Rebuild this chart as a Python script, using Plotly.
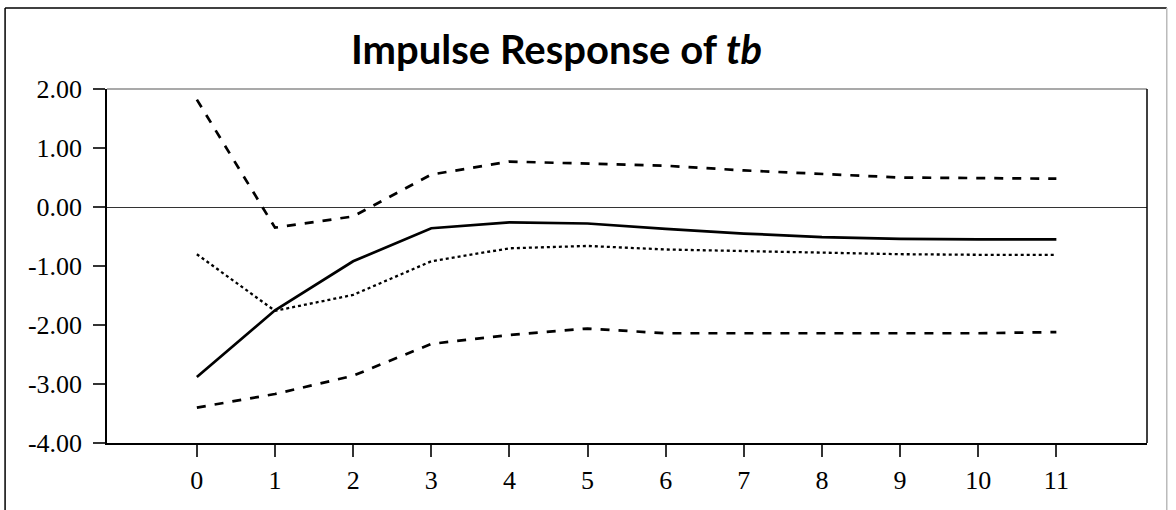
import plotly.graph_objects as go

periods = list(range(12))
response = [-2.88, -1.75, -0.92, -0.36, -0.26, -0.28, -0.37, -0.45, -0.51, -0.54, -0.55, -0.55]
upper_band = [1.82, -0.35, -0.16, 0.55, 0.77, 0.74, 0.70, 0.62, 0.56, 0.50, 0.49, 0.48]
lower_band = [-3.40, -3.17, -2.86, -2.32, -2.17, -2.06, -2.14, -2.14, -2.14, -2.14, -2.14, -2.12]
dotted_series = [-0.80, -1.76, -1.49, -0.92, -0.70, -0.66, -0.72, -0.75, -0.78, -0.80, -0.81, -0.81]
y_ticks = [2, 1, 0, -1, -2, -3, -4]
y_tick_labels = ["2.00", "1.00", "0.00", "-1.00", "-2.00", "-3.00", "-4.00"]
title_text = "<b>Impulse Response of <i>tb</i></b>"

fig = go.Figure()
fig.add_trace(go.Scatter(x=periods, y=upper_band, mode="lines",
                         line=dict(color="black", width=2.7, dash="dash"), showlegend=False))
fig.add_trace(go.Scatter(x=periods, y=lower_band, mode="lines",
                         line=dict(color="black", width=2.7, dash="dash"), showlegend=False))
fig.add_trace(go.Scatter(x=periods, y=dotted_series, mode="lines",
                         line=dict(color="black", width=2.3, dash="dot"), showlegend=False))
fig.add_trace(go.Scatter(x=periods, y=response, mode="lines",
                         line=dict(color="black", width=2.7), showlegend=False))

tick_font = dict(family="Liberation Serif", size=26, color="black")
fig.update_layout(
    width=1176, height=510,
    margin=dict(l=107, r=29, t=89, b=67),
    paper_bgcolor="white", plot_bgcolor="white",
    xaxis=dict(range=[-1.15, 12.16], tickmode="array", tickvals=periods,
               ticktext=[str(p) for p in periods], showgrid=False, zeroline=False,
               showline=True, linecolor="black", linewidth=1.5,
               ticks="outside", ticklen=12, tickcolor="#333", tickwidth=1.5,
               tickfont=tick_font, ticklabelstandoff=1),
    yaxis=dict(range=[-4, 2], tickmode="array", tickvals=y_ticks, ticktext=y_tick_labels,
               showgrid=False, zeroline=True, zerolinecolor="#333", zerolinewidth=1,
               showline=True, linecolor="black", linewidth=1.5,
               ticks="outside", ticklen=12, tickcolor="#333", tickwidth=1.5,
               tickfont=tick_font, ticklabelstandoff=6),
    annotations=[dict(text=title_text, xref="paper", yref="paper", x=0.4322, y=1.113,
                      xanchor="center", yanchor="middle", showarrow=False,
                      font=dict(family="Lato", size=40, color="black"))],
    shapes=[
        # plot-area top and right border
        dict(type="line", xref="paper", yref="paper", x0=0, x1=1, y0=1, y1=1,
             line=dict(color="#555", width=1.2)),
        dict(type="line", xref="paper", yref="paper", x0=1, x1=1, y0=0, y1=1,
             line=dict(color="black", width=1.5)),
        # outer frame
        dict(type="line", xref="paper", yref="paper", x0=-0.098, x1=1.019, y0=1.229, y1=1.229,
             line=dict(color="black", width=1.5)),
        dict(type="line", xref="paper", yref="paper", x0=-0.098, x1=-0.098, y0=1.229, y1=-0.25,
             line=dict(color="black", width=1.5)),
        dict(type="line", xref="paper", yref="paper", x0=1.019, x1=1.019, y0=1.229, y1=-0.25,
             line=dict(color="#bbb", width=1.5)),
    ],
)

fig.write_html("out.html", config={"displayModeBar": False},
               post_script="document.body.style.margin='0';document.body.style.overflow='hidden';")
